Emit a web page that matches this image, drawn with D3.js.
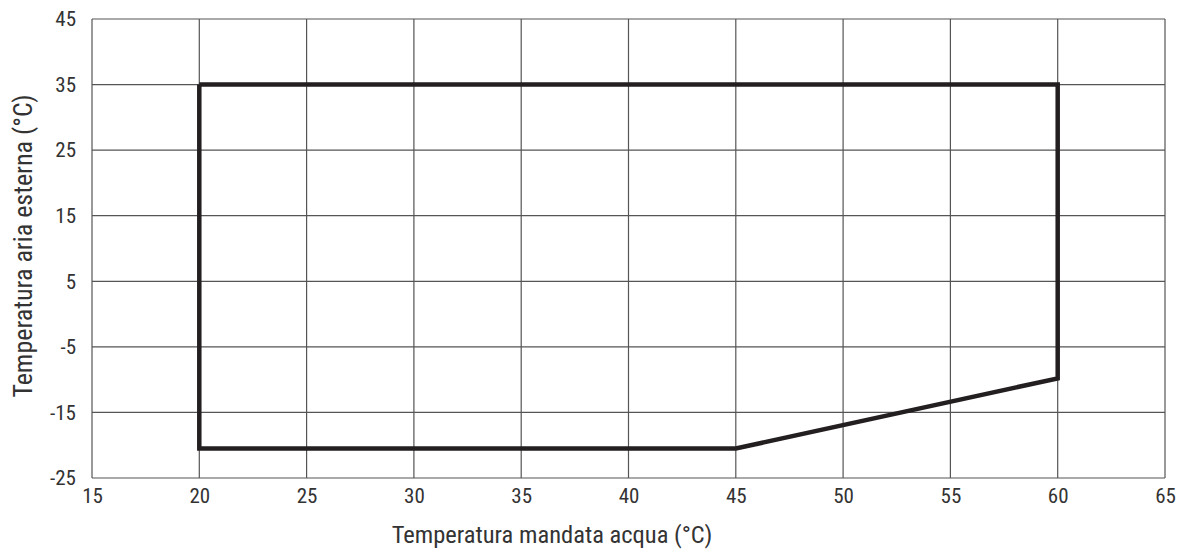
<!DOCTYPE html>
<html lang="it">
  <head>
    <meta charset="UTF-8" />
    <title>Campo di funzionamento</title>
    <style>
      body { margin: 0; background: #fff; }
      text { font-family: "Roboto Condensed", "Liberation Sans Narrow", "Liberation Sans", sans-serif; fill: #333; }
    </style>
  </head>
  <body>
    <script src="https://d3js.org/d3.v7.min.js"></script>
    <script>
      // limiti di funzionamento
      const waterTemp = [20, 60, 60, 45, 20, 20];
      const airTemp = [35, 35, -9.8, -20.5, -20.5, 35];
      const xTicks = [15, 20, 25, 30, 35, 40, 45, 50, 55, 60, 65];
      const yTicks = [-25, -15, -5, 5, 15, 25, 35, 45];
      const xLabel = "Temperatura mandata acqua (°C)";
      const yLabel = "Temperatura aria esterna (°C)";

      const width = 1179;
      const height = 549;
      const margin = { top: 19, right: 14, bottom: 71, left: 92 };

      const svg = d3
        .select("body")
        .append("svg")
        .attr("width", width)
        .attr("height", height);

      const x = d3
        .scaleLinear()
        .domain([15, 65])
        .range([margin.left, width - margin.right]);

      const y = d3
        .scaleLinear()
        .domain([-25, 45])
        .range([height - margin.bottom, margin.top]);

      // griglia
      svg
        .append("g")
        .selectAll("line")
        .data(xTicks)
        .join("line")
        .attr("x1", (d) => x(d))
        .attr("x2", (d) => x(d))
        .attr("y1", y(-25))
        .attr("y2", y(45))
        .attr("stroke", "#555")
        .attr("stroke-width", 1.2);

      svg
        .append("g")
        .selectAll("line")
        .data(yTicks)
        .join("line")
        .attr("x1", x(15))
        .attr("x2", x(65))
        .attr("y1", (d) => y(d))
        .attr("y2", (d) => y(d))
        .attr("stroke", "#555")
        .attr("stroke-width", 1.2);

      const fmt = (d) => String(d);
      const xAxis = d3.axisBottom(x).tickValues(xTicks).tickFormat(fmt).tickSize(0).tickPadding(10);
      const yAxis = d3.axisLeft(y).tickValues(yTicks).tickFormat(fmt).tickSize(0).tickPadding(16);

      const styleTicks = (g) => {
        g.attr("font-family", null).attr("font-size", null);
        g.select(".domain").remove();
        g.selectAll("text").attr("font-size", 21).attr("fill", "#333");
      };

      svg
        .append("g")
        .attr("transform", `translate(0, ${height - margin.bottom})`)
        .call(xAxis)
        .call(styleTicks);

      svg
        .append("g")
        .attr("transform", `translate(${margin.left}, 0)`)
        .call(yAxis)
        .call(styleTicks);

      // area di funzionamento
      const line = d3
        .line()
        .x((d) => x(d[0]))
        .y((d) => y(d[1]));

      svg
        .append("path")
        .datum(d3.zip(waterTemp, airTemp))
        .attr("d", line)
        .attr("fill", "none")
        .attr("stroke", "#231f20")
        .attr("stroke-width", 4.5)
        .attr("stroke-linejoin", "miter");

      svg
        .append("text")
        .attr("x", 552)
        .attr("y", 543)
        .attr("text-anchor", "middle")
        .attr("font-size", 24.5)
        .text(xLabel);

      svg
        .append("text")
        .attr("transform", `translate(32, 246) rotate(-90)`)
        .attr("text-anchor", "middle")
        .attr("font-size", 26)
        .text(yLabel);
    </script>
  </body>
</html>
